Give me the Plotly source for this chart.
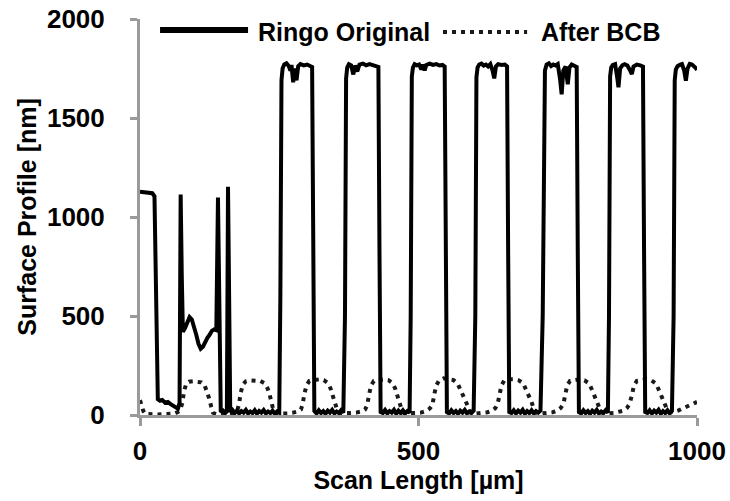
import plotly.graph_objects as go

# ---- Ringo Original (solid) : scan length [um], surface profile [nm]
orig_x = [
    0, 8, 16, 22, 26, 28, 30, 32, 36, 40, 45, 50, 55, 60, 64, 68, 71, 73, 75, 77,
    81, 85, 89, 93, 97, 101, 105, 109, 113, 117, 121, 125, 129, 133, 137, 140, 143, 145, 149, 153,
    156, 158, 160, 162, 166, 170, 174, 178, 182, 186, 190, 194, 198, 202, 206, 210, 214, 218, 222, 226,
    230, 234, 238, 242, 246, 250,
    252, 254, 256, 259, 263, 267, 270, 272, 275, 278, 281, 284, 288, 294, 300, 305, 309, 311, 313,
    317, 321, 325, 329, 333, 337, 341, 345, 349, 353, 357, 361, 365,
    368, 370, 372, 375, 379, 383, 386, 390, 394, 400, 406, 412, 418, 424, 428, 430, 432,
    436, 440, 444, 448, 452, 456, 460, 464, 468, 472, 476, 480, 484,
    486, 488, 490, 493, 497, 501, 505, 508, 511, 514, 520, 526, 532, 538, 543, 547, 549, 551,
    555, 559, 563, 567, 571, 575, 579, 583, 587, 591, 595, 599,
    602, 604, 606, 609, 613, 617, 621, 625, 629, 633, 636, 639, 643, 649, 655, 659, 661, 663,
    667, 671, 675, 679, 683, 687, 691, 695, 699, 703, 707, 711, 715, 719,
    723, 725, 727, 730, 734, 738, 742, 746, 750, 754, 757, 760, 764, 768, 771, 775, 780, 784, 786, 788,
    792, 796, 800, 804, 808, 812, 816, 820, 824, 828, 832, 836, 840,
    842, 844, 846, 849, 853, 857, 859, 862, 866, 870, 875, 880, 883, 886, 892, 898, 903, 905, 907,
    911, 915, 919, 923, 927, 931, 935, 939, 943, 947, 951, 955,
    958, 960, 962, 965, 969, 973, 977, 980, 983, 987, 991, 995, 998, 1000,
]
orig_y = [
    1128, 1126, 1124, 1120, 1105, 800, 300, 80, 72, 76, 62, 66, 55, 48, 38, 32, 60, 1113, 700, 420,
    440, 470, 494, 482, 450, 405, 360, 335, 345, 372, 390, 405, 425, 432, 428, 1098, 400, 15, 22, 10,
    18, 1153, 600, 15, 25, 10, 22, 8, 20, 12, 26, 8, 18, 10, 24, 6, 20, 12, 25, 8,
    18, 10, 22, 6, 18, 12,
    600, 1690, 1750, 1770, 1776, 1762, 1740, 1768, 1680, 1750, 1690, 1762, 1772, 1766, 1770, 1764, 1758, 900, 20,
    8, 24, 10, 20, 6, 22, 12, 26, 8, 18, 10, 24, 12,
    500, 1700, 1755, 1772, 1766, 1720, 1765, 1735, 1770, 1775, 1766, 1772, 1768, 1762, 1758, 800, 15,
    10, 25, 8, 20, 12, 26, 6, 22, 10, 24, 8, 20, 12,
    500, 1710, 1755, 1772, 1766, 1770, 1745, 1770, 1740, 1768, 1775, 1768, 1772, 1765, 1768, 1760, 800, 15,
    8, 24, 10, 20, 6, 22, 12, 26, 8, 18, 10, 22,
    500, 1705, 1755, 1770, 1775, 1765, 1770, 1760, 1772, 1740, 1700, 1760, 1772, 1768, 1770, 1760, 800, 15,
    10, 24, 8, 22, 12, 26, 6, 20, 10, 24, 8, 20, 12, 22,
    500, 1540, 1740, 1770, 1776, 1762, 1770, 1765, 1772, 1700, 1620, 1740, 1760, 1670, 1755, 1770, 1765, 1758, 800, 15,
    8, 24, 10, 20, 6, 22, 12, 26, 8, 18, 10, 24, 12,
    500, 1710, 1755, 1768, 1772, 1700, 1655, 1750, 1766, 1772, 1765, 1740, 1722, 1760, 1770, 1766, 1760, 800, 15,
    10, 24, 8, 22, 12, 26, 6, 20, 10, 24, 8, 20,
    500, 1690, 1745, 1762, 1768, 1772, 1740, 1688, 1750, 1773, 1770, 1762, 1752, 1743,
]

# ---- After BCB (dotted)
bcb_x = [
    0, 3, 6, 10, 16, 24, 32, 40, 48, 56, 62, 68, 72, 76, 79, 83, 88, 95, 103, 110,
    116, 120, 124, 128, 131, 136, 145, 155, 163, 170, 175, 178, 181, 185, 190, 198, 207, 216, 224, 229,
    233, 237, 240, 245, 255, 265, 275, 283, 289, 292, 295, 299, 304, 312, 321, 330, 337, 342, 346, 350,
    354, 358, 368, 378, 388, 398, 404, 408, 411, 415, 420, 428, 437, 446, 453, 458, 462, 466, 470, 474,
    484, 494, 504, 514, 520, 525, 528, 532, 537, 545, 554, 563, 570, 575, 580, 585, 590, 594, 604, 614,
    624, 632, 638, 642, 645, 649, 654, 662, 671, 680, 688, 693, 698, 703, 707, 711, 721, 731, 741, 749,
    755, 760, 763, 767, 772, 780, 789, 798, 806, 811, 816, 821, 826, 830, 840, 850, 860, 868, 874, 879,
    883, 887, 892, 900, 909, 918, 926, 931, 936, 941, 946, 951, 958, 966, 974, 982, 990, 996, 1000,
]
bcb_y = [
    75, 45, 20, 5, 3, 4, 3, 5, 4, 6, 8, 15, 25, 60, 120, 158, 168, 170, 168, 165,
    150, 120, 85, 40, 12, 4, 3, 5, 6, 12, 25, 60, 115, 155, 170, 175, 176, 172, 160, 135,
    100, 55, 18, 6, 5, 8, 12, 18, 28, 55, 105, 150, 172, 178, 180, 176, 162, 135, 100, 60,
    25, 10, 8, 10, 12, 18, 28, 50, 100, 150, 172, 178, 180, 176, 162, 135, 100, 60, 25, 10,
    8, 10, 12, 20, 32, 50, 100, 150, 175, 185, 180, 176, 160, 130, 100, 70, 35, 12, 8, 10,
    14, 22, 35, 55, 100, 150, 174, 180, 180, 175, 160, 130, 100, 65, 30, 12, 8, 10, 14, 22,
    35, 55, 100, 150, 172, 178, 180, 175, 160, 130, 95, 60, 28, 12, 8, 10, 14, 22, 35, 55,
    100, 150, 172, 178, 180, 175, 160, 130, 95, 60, 30, 14, 15, 22, 32, 42, 52, 60, 66,
]

x_ticks = [0, 500, 1000]
y_ticks = [0, 500, 1000, 1500, 2000]
series_names = ["Ringo Original", "After BCB"]
x_title = "Scan Length [µm]"
y_title = "Surface Profile [nm]"

FONT = "Liberation Sans, Arial, sans-serif"
AXIS_GREY = "#9a9a9a"

fig = go.Figure()
fig.add_trace(go.Scatter(x=bcb_x, y=bcb_y, mode="lines", name=series_names[1],
                         line=dict(color="#1a1a1a", width=4, dash="4px,5px"),
                         showlegend=False))
fig.add_trace(go.Scatter(x=orig_x, y=orig_y, mode="lines", name=series_names[0],
                         line=dict(color="#000000", width=4),
                         showlegend=False))

# legend drawn manually to match the long line samples
fig.add_shape(type="line", xref="paper", yref="paper", x0=0.036, x1=0.194, y0=0.972, y1=0.972,
              line=dict(color="#000000", width=6))
fig.add_shape(type="line", xref="paper", yref="paper", x0=0.544, x1=0.695, y0=0.967, y1=0.967,
              line=dict(color="#1a1a1a", width=4, dash="4px,5px"))
fig.add_annotation(xref="paper", yref="paper", x=0.208, y=0.967, text=series_names[0],
                   showarrow=False, xanchor="left", yanchor="middle",
                   font=dict(family=FONT, size=25, color="#000", weight="bold"))
fig.add_annotation(xref="paper", yref="paper", x=0.716, y=0.967, text=series_names[1],
                   showarrow=False, xanchor="left", yanchor="middle",
                   font=dict(family=FONT, size=25, color="#000", weight="bold"))

axis_common = dict(
    showgrid=False, zeroline=False, showline=True, linecolor=AXIS_GREY, linewidth=3,
    ticks="outside", tickcolor=AXIS_GREY, tickwidth=3, layer="below traces",
    automargin=False,
    tickfont=dict(family=FONT, size=26, color="#000", weight="bold"),
)
fig.update_xaxes(range=[0, 1000], tickvals=x_ticks, ticklen=8, ticklabelstandoff=3,
                 title=dict(text=x_title, standoff=6,
                            font=dict(family=FONT, size=25, color="#000", weight="bold")),
                 **axis_common)
fig.update_yaxes(range=[0, 2000], tickvals=y_ticks, ticklen=7, ticklabelstandoff=20,
                 title=dict(text=y_title, standoff=4,
                            font=dict(family=FONT, size=25, color="#000", weight="bold")),
                 **axis_common)

fig.update_layout(
    width=730, height=501,
    margin=dict(l=140, r=33, t=19, b=86),
    paper_bgcolor="white", plot_bgcolor="white",
    showlegend=False,
)

fig.write_html("out.html")
